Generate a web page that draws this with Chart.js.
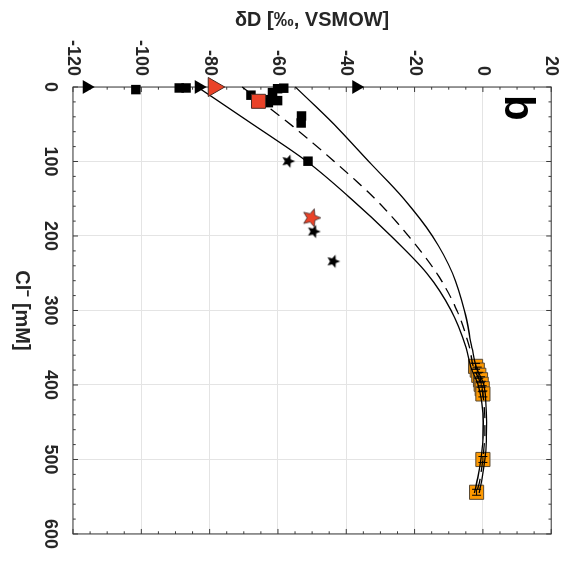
<!DOCTYPE html>
<html>
<head>
<meta charset="utf-8">
<script src="https://cdn.jsdelivr.net/npm/chart.js@4.4.1/dist/chart.umd.min.js"></script>
<style>
  html, body { margin: 0; padding: 0; background: #ffffff; overflow: hidden; }
  #wrap { position: absolute; left: 0; top: 0; width: 561px; height: 573px;
          transform-origin: 0 0; transform: translate(573px, 0) rotate(90deg); }
</style>
</head>
<body>
<div id="wrap"><canvas id="c" width="561" height="573"></canvas></div>
<script>
// ---------------- data (Cl⁻ in mM, δD in ‰ VSMOW) ----------------
const clTickValues = [0, 100, 200, 300, 400, 500, 600];
const dTickValues = [-120, -100, -80, -60, -40, -20, 0, 20];

const blackTriCl = [0, 0, 0];
const blackTriD  = [-116.0, -83.2, -37.1];

const redTriCl = [0];
const redTriD  = [-78.8];

const blackSqCl = [3.5, 1.3, 1.3, 11.0, 1.6, 2.3, 7.6, 18.3, 17.0, 21.0, 38.9, 48.3, 99.6];
const blackSqD  = [-101.6, -88.9, -86.9, -67.9, -58.3, -60.1, -61.6, -60.1, -62.1, -62.8, -53.1, -53.2, -51.2];

const redSqCl = [19.2];
const redSqD  = [-65.7];

const blackStarCl = [99.6, 194, 234];
const blackStarD  = [-57.0, -49.5, -43.8];

const redStarCl = [175.6];
const redStarD  = [-50.2];

const brineCl = [375, 380, 387, 393, 399, 405, 412, 500, 544];
const brineD  = [-2.15, -1.65, -1.2, -0.7, -0.5, -0.2, 0.0, 0.0, -1.85];
const brineClErr = 4;

const curveCl    = [0, 50, 100, 150, 200, 250, 300, 350, 375, 400, 425, 450, 475, 500, 525, 545];
const curveLowD  = [-83.6, -67.4, -51.5, -38.6, -26.9, -16.4, -9.3, -4.9, -3.6, -1.4, -0.3, 0.1, 0.0, -0.6, -1.5, -2.5];
const curveMidD  = [-70.5, -56.4, -43.5, -31.6, -21.8, -13.5, -7.6, -3.9, -2.8, -0.5, 0.3, 0.6, 0.5, 0.0, -0.8, -1.8];
const curveHighD = [-54.9, -43.6, -33.4, -23.2, -14.8, -8.9, -5.4, -3.2, -2.0, 0.3, 0.9, 1.1, 1.0, 0.6, -0.2, -1.1];

const panelLabel = 'b';
const xTitle = 'Cl\u207B [mM]';
const yTitle = '\u03B4D [\u2030, VSMOW]';

// ---------------- helpers ----------------
const pts = (xs, ys) => xs.map((v, i) => ({ x: v, y: ys[i] }));
const FONT = '"Liberation Sans", Arial, Helvetica, sans-serif';
const TXT = '#262626';
const AX = '#3a3a3a';

function makeStar(R, fill, stroke) {
  const s = Math.ceil(2 * R + 4);
  const c = document.createElement('canvas');
  c.width = s; c.height = s;
  const g = c.getContext('2d');
  g.translate(s / 2, s / 2);
  g.beginPath();
  for (let i = 0; i < 10; i++) {
    const r = i % 2 === 0 ? R : R * 0.45;
    const a = -Math.PI / 2 + i * Math.PI / 5;
    g.lineTo(r * Math.cos(a), r * Math.sin(a));
  }
  g.closePath();
  g.fillStyle = fill; g.fill();
  if (stroke) { g.strokeStyle = stroke; g.lineWidth = 0.8; g.stroke(); }
  return c;
}
const blackStar = makeStar(7, '#000000', null);
const redStar = makeStar(9.5, '#ea4228', '#3a2a2a');

const frame = {
  id: 'frame',
  beforeDatasetsDraw(chart) {
    const { ctx, chartArea: a, scales: { x, y } } = chart;
    ctx.save();
    ctx.strokeStyle = AX; ctx.lineWidth = 1;
    ctx.strokeRect(a.left, a.top, a.right - a.left, a.bottom - a.top);
    ctx.beginPath();
    for (let c = 0; c <= 600; c += 20) {
      const px = x.getPixelForValue(c);
      const len = c % 100 === 0 ? 5 : 2.7;
      ctx.moveTo(px, a.bottom); ctx.lineTo(px, a.bottom - len);
      ctx.moveTo(px, a.top); ctx.lineTo(px, a.top + len);
    }
    for (let d = -120; d <= 20; d += 5) {
      const py = y.getPixelForValue(d);
      const len = d % 20 === 0 ? 5 : 2.7;
      ctx.moveTo(a.left, py); ctx.lineTo(a.left + len, py);
      ctx.moveTo(a.right, py); ctx.lineTo(a.right - len, py);
    }
    ctx.stroke();
    ctx.restore();
  },
  afterDatasetsDraw(chart) {
    const { ctx, chartArea: a, scales: { x, y } } = chart;
    ctx.save();
    ctx.strokeStyle = '#000'; ctx.lineWidth = 1;
    ctx.beginPath();
    brineCl.forEach((c, i) => {
      const py = y.getPixelForValue(brineD[i]);
      const x0 = x.getPixelForValue(c - brineClErr);
      const x1 = x.getPixelForValue(c + brineClErr);
      ctx.moveTo(x0, py); ctx.lineTo(x1, py);
      ctx.moveTo(x0, py - 4.5); ctx.lineTo(x0, py + 4.5);
      ctx.moveTo(x1, py - 4.5); ctx.lineTo(x1, py + 4.5);
    });
    ctx.stroke();
    ctx.fillStyle = '#000';
    ctx.font = 'bold 42px ' + FONT;
    ctx.textBaseline = 'alphabetic';
    ctx.textAlign = 'left';
    ctx.fillText(panelLabel, a.left + 8, a.top + 46);
    ctx.restore();
  }
};

const tickFont = { family: FONT, size: 18, weight: 'bold' };
const titleFont = { family: FONT, size: 20, weight: 'bold' };

new Chart(document.getElementById('c'), {
  type: 'scatter',
  data: {
    datasets: [
      { data: pts(brineCl, brineD), pointStyle: 'rect', pointRadius: 10,
        backgroundColor: '#ff9900', borderColor: '#5b4a33', borderWidth: 1, order: 3, clip: false },
      { data: pts(curveCl, curveLowD), showLine: true, pointRadius: 0, borderColor: '#000',
        borderWidth: 1.3, cubicInterpolationMode: 'monotone', order: 2, clip: false },
      { data: pts(curveCl, curveMidD), showLine: true, pointRadius: 0, borderColor: '#000',
        borderWidth: 1.3, borderDash: [11, 7], cubicInterpolationMode: 'monotone', order: 2, clip: false },
      { data: pts(curveCl, curveHighD), showLine: true, pointRadius: 0, borderColor: '#000',
        borderWidth: 1.3, cubicInterpolationMode: 'monotone', order: 2, clip: false },
      { data: pts(blackSqCl, blackSqD), pointStyle: 'rect', pointRadius: 6.7,
        backgroundColor: '#000', borderColor: '#000', borderWidth: 0, order: 1, clip: false },
      { data: pts(blackTriCl, blackTriD), pointStyle: 'triangle', pointRadius: 8,
        backgroundColor: '#000', borderColor: '#000', borderWidth: 0, order: 1, clip: false },
      { data: pts(blackStarCl, blackStarD), pointStyle: blackStar, order: 1, clip: false },
      { data: pts(redSqCl, redSqD), pointStyle: 'rect', pointRadius: 9.9,
        backgroundColor: '#ea4228', borderColor: '#4a2a22', borderWidth: 1, order: 0, clip: false },
      { data: pts(redTriCl, redTriD), pointStyle: 'triangle', pointRadius: 11,
        backgroundColor: '#ea4228', borderColor: '#4a2a22', borderWidth: 1, order: 0, clip: false },
      { data: pts(redStarCl, redStarD), pointStyle: redStar, order: 0, clip: false }
    ]
  },
  options: {
    responsive: false,
    animation: false,
    devicePixelRatio: 1,
    layout: { padding: { left: 0, right: 22, top: 19, bottom: 0 } },
    plugins: { legend: { display: false }, tooltip: { enabled: false } },
    events: [],
    scales: {
      x: {
        type: 'linear', position: 'bottom', min: 0, max: 600,
        afterBuildTicks(s) { s.ticks = clTickValues.map(v => ({ value: v })); },
        ticks: { font: tickFont, color: TXT, padding: 12, maxRotation: 0, minRotation: 0 },
        grid: { color: '#e4e4e4', drawTicks: false, lineWidth: 1 },
        border: { display: false },
        title: { display: true, text: xTitle, font: titleFont, color: TXT, padding: { top: 0, bottom: 10 } },
        afterFit(s) { s.height = 73; }
      },
      y: {
        type: 'linear', position: 'left', min: -120, max: 20,
        afterBuildTicks(s) { s.ticks = dTickValues.map(v => ({ value: v })); },
        ticks: { font: tickFont, color: TXT, padding: 11 },
        grid: { color: '#e4e4e4', drawTicks: false, lineWidth: 1 },
        border: { display: false },
        title: { display: true, text: yTitle, font: titleFont, color: TXT, padding: { top: 8, bottom: 0 } },
        afterFit(s) { s.width = 87; }
      }
    }
  },
  plugins: [frame]
});
</script>
</body>
</html>
